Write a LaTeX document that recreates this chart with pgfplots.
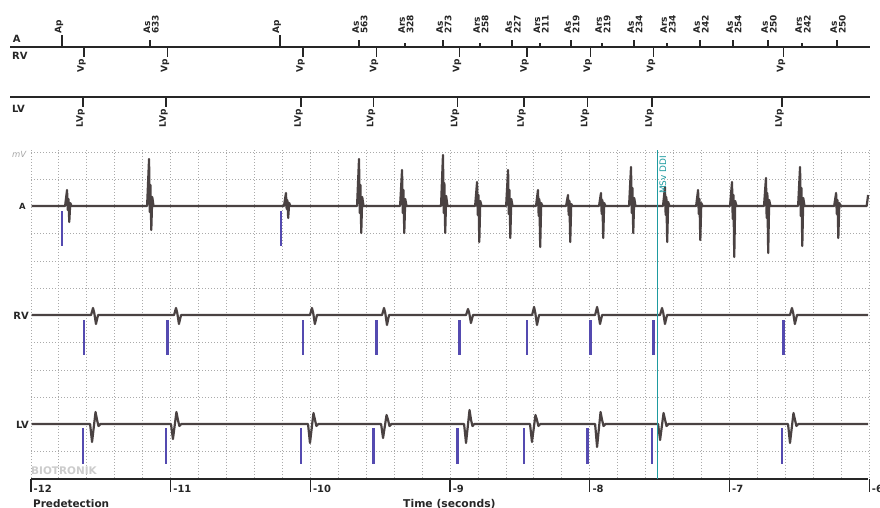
\documentclass[border=0pt]{standalone}
\usepackage{pgfplots}
\pgfplotsset{compat=1.18}
\usepackage{fontspec}
\setmainfont{DejaVu Sans}
\definecolor{trace}{RGB}{74,66,66}
\definecolor{mbar}{RGB}{84,74,176}
\definecolor{tealc}{RGB}{30,155,160}
\definecolor{gridc}{RGB}{170,170,170}
\definecolor{lab}{RGB}{38,38,38}
\tikzset{gridline/.style={gridc, line width=0.9bp, dash pattern=on 0.9bp off 2.1bp}}
\newcommand{\mlab}{\fontsize{9}{8.6}\selectfont\bfseries}
\newcommand{\alab}[2]{\node[rotate=90,anchor=west,align=left,inner sep=0pt,font=\mlab,text=lab] at (axis cs:#1,34) {#2};}
\newcommand{\vlab}[2]{\node[rotate=90,anchor=east,inner sep=0pt,font=\mlab,text=lab] at (axis cs:#1,#2) {Vp};}
\newcommand{\lvlab}[2]{\node[rotate=90,anchor=east,inner sep=0pt,font=\mlab,text=lab] at (axis cs:#1,#2) {LVp};}
\begin{document}
\begin{tikzpicture}
\begin{axis}[
  scale only axis, width=880bp, height=508bp,
  xmin=-12.2219, xmax=-5.9227, ymin=0, ymax=508, y dir=reverse,
  hide axis, clip=false, unbounded coords=jump,
]
\coordinate (BL) at (rel axis cs:0,0);
\coordinate (TR) at (rel axis cs:1,1);
% ---- grid of the electrogram panel
\pgfplotsinvokeforeach{-12,-11.8,-11.6,-11.4,-11.2,-11,-10.8,-10.6,-10.4,-10.2,-10,-9.8,-9.6,-9.4,-9.2,-9,-8.8,-8.6,-8.4,-8.2,-8,-7.8,-7.6,-7.4,-7.2,-7,-6.8,-6.6,-6.4,-6.2,-6}{
  \draw[gridline] (axis cs:#1,150) -- (axis cs:#1,478);}
\pgfplotsinvokeforeach{152,179,233,261,288,342,370,397,451}{
  \draw[gridline] (axis cs:-12,#1) -- (axis cs:-6,#1);}
% ---- marker chart lines
\addplot[lab, line width=2bp] coordinates {(-12.150,47) (-5.994,47)};
\addplot[lab, line width=2bp] coordinates {(-12.150,97) (-5.994,97)};
% atrial markers: Ap (tall), As, Ars (short)
\addplot[lab, line width=1.4bp] coordinates {
 (-11.778,47) (-11.778,35) (-11.778,nan)
 (-10.218,47) (-10.218,35) (-10.218,nan)};
\addplot[lab, line width=1.4bp] coordinates {
 (-11.148,47) (-11.148,40) (-11.148,nan)
 (-9.652,47) (-9.652,40) (-9.652,nan)
 (-9.051,47) (-9.051,40) (-9.051,nan)
 (-8.557,47) (-8.557,40) (-8.557,nan)
 (-8.135,47) (-8.135,40) (-8.135,nan)
 (-7.684,47) (-7.684,40) (-7.684,nan)
 (-7.211,47) (-7.211,40) (-7.211,nan)
 (-6.975,47) (-6.975,40) (-6.975,nan)
 (-6.724,47) (-6.724,40) (-6.724,nan)
 (-6.230,47) (-6.230,40) (-6.230,nan)};
\addplot[lab, line width=1.4bp] coordinates {
 (-9.323,47) (-9.323,43) (-9.323,nan)
 (-8.786,47) (-8.786,43) (-8.786,nan)
 (-8.356,47) (-8.356,43) (-8.356,nan)
 (-7.913,47) (-7.913,43) (-7.913,nan)
 (-7.447,47) (-7.447,43) (-7.447,nan)
 (-6.481,47) (-6.481,43) (-6.481,nan)};
% RV markers
\addplot[lab, line width=1.4bp] coordinates {
 (-11.621,47) (-11.621,57) (-11.621,nan)
 (-11.022,47) (-11.022,57) (-11.022,nan)
 (-10.053,47) (-10.053,57) (-10.053,nan)
 (-9.527,47) (-9.527,57) (-9.527,nan)
 (-8.932,47) (-8.932,57) (-8.932,nan)
 (-8.450,47) (-8.450,57) (-8.450,nan)
 (-7.996,47) (-7.996,57) (-7.996,nan)
 (-7.544,47) (-7.544,57) (-7.544,nan)
 (-6.613,47) (-6.613,57) (-6.613,nan)};
% LV markers
\addplot[lab, line width=1.4bp] coordinates {
 (-11.628,97) (-11.628,107) (-11.628,nan)
 (-11.034,97) (-11.034,107) (-11.034,nan)
 (-10.067,97) (-10.067,107) (-10.067,nan)
 (-9.548,97) (-9.548,107) (-9.548,nan)
 (-8.947,97) (-8.947,107) (-8.947,nan)
 (-8.471,97) (-8.471,107) (-8.471,nan)
 (-8.016,97) (-8.016,107) (-8.016,nan)
 (-7.555,97) (-7.555,107) (-7.555,nan)
 (-6.624,97) (-6.624,107) (-6.624,nan)};
% marker labels
\alab{-11.800}{Ap}
\alab{-11.140}{As\\633}
\alab{-10.240}{Ap}
\alab{-9.645}{As\\563}
\alab{-9.316}{Ars\\328}
\alab{-9.044}{As\\273}
\alab{-8.779}{Ars\\258}
\alab{-8.550}{As\\227}
\alab{-8.349}{Ars\\211}
\alab{-8.128}{As\\219}
\alab{-7.906}{Ars\\219}
\alab{-7.677}{As\\234}
\alab{-7.440}{Ars\\234}
\alab{-7.204}{As\\242}
\alab{-6.968}{As\\254}
\alab{-6.717}{As\\250}
\alab{-6.474}{Ars\\242}
\alab{-6.223}{As\\250}
\vlab{-11.639}{59}\vlab{-11.040}{59}\vlab{-10.071}{59}\vlab{-9.545}{59}\vlab{-8.950}{59}
\vlab{-8.468}{59}\vlab{-8.014}{59}\vlab{-7.562}{59}\vlab{-6.631}{59}
\lvlab{-11.646}{109}\lvlab{-11.052}{109}\lvlab{-10.085}{109}\lvlab{-9.566}{109}\lvlab{-8.965}{109}
\lvlab{-8.489}{109}\lvlab{-8.034}{109}\lvlab{-7.573}{109}\lvlab{-6.642}{109}
\node[anchor=base west,inner sep=0pt,font=\fontsize{10}{10}\selectfont\bfseries,text=lab] at (axis cs:-12.132,43) {A};
\node[anchor=base west,inner sep=0pt,font=\fontsize{10}{10}\selectfont\bfseries,text=lab] at (axis cs:-12.136,60) {RV};
\node[anchor=base west,inner sep=0pt,font=\fontsize{10}{10}\selectfont\bfseries,text=lab] at (axis cs:-12.136,112) {LV};
% ---- bottom time axis
\addplot[lab, line width=1.6bp] coordinates {(-12,479) (-6.008,479)};
\pgfplotsinvokeforeach{-12,-11,-10,-9,-8,-7,-6}{
  \draw[lab, line width=1.3bp] (axis cs:#1,479) -- (axis cs:#1,492);
  \node[anchor=base west,inner sep=0pt,xshift=2.5bp,font=\fontsize{10}{10}\selectfont\bfseries,text=lab] at (axis cs:#1,492) {#1};}
\node[anchor=base west,inner sep=0pt,font=\fontsize{10.5}{10}\selectfont\bfseries,text=lab] at (axis cs:-11.986,507) {Predetection};
\node[anchor=base west,inner sep=0pt,font=\fontsize{10.8}{10}\selectfont\bfseries,text=lab] at (axis cs:-9.337,507) {Time (seconds)};
\node[anchor=base west,inner sep=0pt,font=\fontsize{10.5}{10}\selectfont\bfseries,text={black!20}] at (axis cs:-12,474) {BIOTRONIK};
\node[anchor=base west,inner sep=0pt,font=\fontsize{8.5}{8}\selectfont\itshape,text={black!35}] at (axis cs:-12.136,157) {mV};
% ---- electrogram channel labels
\node[anchor=base east,inner sep=0pt,font=\fontsize{8.5}{8}\selectfont\bfseries,text=lab] at (axis cs:-12.036,209) {A};
\node[anchor=base east,inner sep=0pt,font=\fontsize{10}{10}\selectfont\bfseries,text=lab] at (axis cs:-12.014,319) {RV};
\node[anchor=base east,inner sep=0pt,font=\fontsize{10}{10}\selectfont\bfseries,text=lab] at (axis cs:-12.014,428) {LV};
% ---- marker bars in the electrogram
\addplot[mbar, line width=2.6bp] coordinates {
 (-11.778,211) (-11.778,246) (-11.778,nan)
 (-10.210,211) (-10.210,246) (-10.210,nan)};
\addplot[mbar, line width=2.6bp] coordinates {
 (-11.621,320) (-11.621,355) (-11.621,nan)
 (-11.022,320) (-11.022,355) (-11.022,nan)
 (-10.053,320) (-10.053,355) (-10.053,nan)
 (-9.527,320) (-9.527,355) (-9.527,nan)
 (-8.932,320) (-8.932,355) (-8.932,nan)
 (-8.450,320) (-8.450,355) (-8.450,nan)
 (-7.996,320) (-7.996,355) (-7.996,nan)
 (-7.544,320) (-7.544,355) (-7.544,nan)
 (-6.613,320) (-6.613,355) (-6.613,nan)};
\addplot[mbar, line width=2.6bp] coordinates {
 (-11.628,428) (-11.628,464) (-11.628,nan)
 (-11.034,428) (-11.034,464) (-11.034,nan)
 (-10.067,428) (-10.067,464) (-10.067,nan)
 (-9.548,428) (-9.548,464) (-9.548,nan)
 (-8.947,428) (-8.947,464) (-8.947,nan)
 (-8.471,428) (-8.471,464) (-8.471,nan)
 (-8.016,428) (-8.016,464) (-8.016,nan)
 (-7.555,428) (-7.555,464) (-7.555,nan)
 (-6.624,428) (-6.624,464) (-6.624,nan)};
% ---- atrial electrogram
\addplot[trace, line width=2.2bp, line join=round] coordinates {
 (-11.995,206)
 (-11.756,206) (-11.742,190) (-11.737,210) (-11.732,199) (-11.726,222) (-11.719,203) (-11.710,206)
 (-11.169,206) (-11.155,159) (-11.150,212) (-11.145,185) (-11.139,230) (-11.132,197) (-11.123,206)
 (-10.189,206) (-10.175,193) (-10.170,209) (-10.165,200) (-10.159,218) (-10.152,203) (-10.143,206)
 (-9.666,206) (-9.652,159) (-9.647,213) (-9.642,185) (-9.636,233) (-9.629,197) (-9.620,206)
 (-9.358,206) (-9.344,170) (-9.339,213) (-9.334,190) (-9.328,233) (-9.321,199) (-9.312,206)
 (-9.065,206) (-9.051,155) (-9.046,213) (-9.041,183) (-9.035,233) (-9.028,196) (-9.019,206)
 (-8.821,206) (-8.807,182) (-8.802,215) (-8.797,195) (-8.791,242) (-8.784,201) (-8.775,206)
 (-8.599,206) (-8.585,170) (-8.580,214) (-8.575,190) (-8.569,238) (-8.562,199) (-8.553,206)
 (-8.385,206) (-8.371,190) (-8.366,216) (-8.361,199) (-8.355,247) (-8.348,203) (-8.339,206)
 (-8.170,206) (-8.156,195) (-8.151,215) (-8.146,201) (-8.140,242) (-8.133,204) (-8.124,206)
 (-7.934,206) (-7.920,193) (-7.915,214) (-7.910,200) (-7.904,238) (-7.897,203) (-7.888,206)
 (-7.719,206) (-7.705,167) (-7.700,213) (-7.695,188) (-7.689,233) (-7.682,198) (-7.673,206)
 (-7.476,206) (-7.462,187) (-7.457,215) (-7.452,197) (-7.446,242) (-7.439,202) (-7.430,206)
 (-7.239,206) (-7.225,190) (-7.220,214) (-7.215,199) (-7.209,240) (-7.202,203) (-7.193,206)
 (-6.996,206) (-6.982,182) (-6.977,219) (-6.972,195) (-6.966,257) (-6.959,201) (-6.950,206)
 (-6.753,206) (-6.739,178) (-6.734,218) (-6.729,193) (-6.723,253) (-6.716,200) (-6.707,206)
 (-6.509,206) (-6.495,167) (-6.490,216) (-6.485,188) (-6.479,246) (-6.472,198) (-6.463,206)
 (-6.251,206) (-6.237,193) (-6.232,214) (-6.227,200) (-6.221,238) (-6.214,203) (-6.205,206)
 (-6.018,206) (-6.008,195)};
% ---- RV electrogram
\addplot[trace, line width=2.2bp, line join=round] coordinates {
 (-11.995,315)
 (-11.570,315) (-11.556,308) (-11.547,313) (-11.535,324) (-11.520,315)
 (-10.976,315) (-10.962,308) (-10.953,313) (-10.941,324) (-10.926,315)
 (-10.003,315) (-9.989,308) (-9.980,313) (-9.968,324) (-9.953,315)
 (-9.487,315) (-9.473,308) (-9.464,313) (-9.452,325) (-9.437,315)
 (-8.886,315) (-8.872,309) (-8.863,313) (-8.851,323) (-8.836,315)
 (-8.413,315) (-8.399,307) (-8.390,313) (-8.378,325) (-8.363,315)
 (-7.962,315) (-7.948,307) (-7.939,313) (-7.927,324) (-7.912,315)
 (-7.497,315) (-7.483,308) (-7.474,313) (-7.462,324) (-7.447,315)
 (-6.567,315) (-6.553,308) (-6.544,313) (-6.532,324) (-6.517,315)
 (-6.008,315)};
% ---- LV electrogram
\addplot[trace, line width=2.2bp, line join=round] coordinates {
 (-11.995,424)
 (-11.577,424) (-11.563,442) (-11.538,412) (-11.527,420) (-11.517,426) (-11.503,424)
 (-10.998,424) (-10.984,439) (-10.959,412) (-10.948,420) (-10.938,426) (-10.924,424)
 (-10.017,424) (-10.003,443) (-9.978,413) (-9.967,420) (-9.957,426) (-9.943,424)
 (-9.494,424) (-9.480,438) (-9.455,415) (-9.444,420) (-9.434,426) (-9.420,424)
 (-8.900,424) (-8.886,443) (-8.861,410) (-8.850,420) (-8.840,426) (-8.826,424)
 (-8.428,424) (-8.414,442) (-8.389,415) (-8.378,420) (-8.368,426) (-8.354,424)
 (-7.962,424) (-7.948,447) (-7.923,412) (-7.912,420) (-7.902,426) (-7.888,424)
 (-7.511,424) (-7.497,440) (-7.472,413) (-7.461,420) (-7.451,426) (-7.437,424)
 (-6.581,424) (-6.567,443) (-6.542,413) (-6.531,420) (-6.521,426) (-6.507,424)
 (-6.008,424)};
% ---- mode switch line
\draw[draw=tealc, line width=1.6bp] (axis cs:-7.515,150) -- (axis cs:-7.515,479);
\node[rotate=90,anchor=base west,inner sep=0pt,font=\fontsize{9}{9}\selectfont,text=tealc] at (axis cs:-7.4545,194) {MSv DDI};
\end{axis}
\pgfresetboundingbox
\path[use as bounding box] (BL) rectangle (TR);
\end{tikzpicture}
\end{document}
